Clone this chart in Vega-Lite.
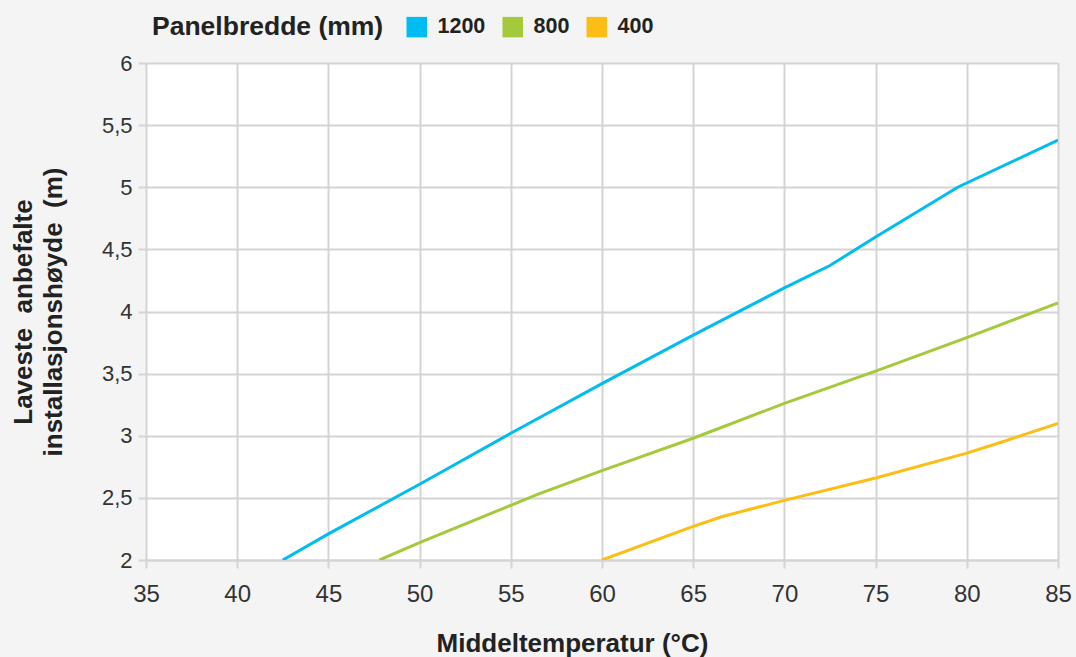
{
  "$schema": "https://vega.github.io/schema/vega-lite/v6.json",
  "autosize": "none",
  "width": 912,
  "height": 497,
  "padding": {"left": 146, "top": 63, "right": 18, "bottom": 97},
  "background": "#f4f4f5",
  "config": {
    "view": {"fill": "white", "stroke": null},
    "font": "Liberation Sans"
  },
  "data": {
    "values": [
      {"panel": "1200", "t": 42.5, "h": 2.0},
      {"panel": "1200", "t": 45, "h": 2.21},
      {"panel": "1200", "t": 50, "h": 2.61},
      {"panel": "1200", "t": 55, "h": 3.02},
      {"panel": "1200", "t": 60, "h": 3.42},
      {"panel": "1200", "t": 65, "h": 3.81},
      {"panel": "1200", "t": 70, "h": 4.19},
      {"panel": "1200", "t": 72.5, "h": 4.37},
      {"panel": "1200", "t": 75, "h": 4.6},
      {"panel": "1200", "t": 79.5, "h": 5.0},
      {"panel": "1200", "t": 85, "h": 5.38},
      {"panel": "800", "t": 47.8, "h": 2.0},
      {"panel": "800", "t": 50, "h": 2.14},
      {"panel": "800", "t": 55, "h": 2.44},
      {"panel": "800", "t": 56.5, "h": 2.53},
      {"panel": "800", "t": 60, "h": 2.72},
      {"panel": "800", "t": 65, "h": 2.98},
      {"panel": "800", "t": 70, "h": 3.26},
      {"panel": "800", "t": 75, "h": 3.52},
      {"panel": "800", "t": 80, "h": 3.79},
      {"panel": "800", "t": 85, "h": 4.07},
      {"panel": "400", "t": 60, "h": 2.0},
      {"panel": "400", "t": 65, "h": 2.27},
      {"panel": "400", "t": 66.6, "h": 2.35},
      {"panel": "400", "t": 70, "h": 2.48},
      {"panel": "400", "t": 75, "h": 2.66},
      {"panel": "400", "t": 80, "h": 2.86},
      {"panel": "400", "t": 81.5, "h": 2.93},
      {"panel": "400", "t": 85, "h": 3.1}
    ]
  },
  "mark": {"type": "line", "strokeWidth": 3, "clip": true},
  "encoding": {
    "x": {
      "field": "t",
      "type": "quantitative",
      "scale": {"domain": [35, 85], "nice": false, "zero": false},
      "axis": {
        "values": [35, 40, 45, 50, 55, 60, 65, 70, 75, 80, 85],
        "title": "Middeltemperatur (°C)",
        "titleFontSize": 26,
        "titleFontWeight": "bold",
        "titleColor": "#222",
        "titleX": 426,
        "titleY": 70,
        "titleBaseline": "top",
        "labelFontSize": 24,
        "labelColor": "#333",
        "labelPadding": 14,
        "labelFlush": false,
        "labelOverlap": false,
        "grid": true,
        "gridColor": "#d4d4d6",
        "gridWidth": 2,
        "domainColor": "#d4d4d6",
        "domainWidth": 2,
        "tickColor": "#d4d4d6",
        "tickWidth": 2,
        "tickSize": 8
      }
    },
    "y": {
      "field": "h",
      "type": "quantitative",
      "scale": {"domain": [2, 6], "nice": false, "zero": false},
      "axis": {
        "values": [2, 2.5, 3, 3.5, 4, 4.5, 5, 5.5, 6],
        "labelExpr": "replace(format(datum.value, '~g'), '.', ',')",
        "title": ["Laveste\u00a0 anbefalte", "installasjonshøyde\u00a0 (m)"],
        "titleFontSize": 26,
        "titleFontWeight": "bold",
        "titleColor": "#222",
        "titlePadding": 35,
        "titleLineHeight": 30,
        "labelFontSize": 22,
        "labelColor": "#333",
        "labelPadding": 6,
        "labelFlush": false,
        "grid": true,
        "gridColor": "#d4d4d6",
        "gridWidth": 2,
        "domain": false,
        "tickColor": "#d4d4d6",
        "tickWidth": 2,
        "tickSize": 8
      }
    },
    "color": {
      "field": "panel",
      "type": "nominal",
      "scale": {"domain": ["1200", "800", "400"], "range": ["#00bcf0", "#a4c93a", "#fdbd14"]},
      "legend": {
        "title": "Panelbredde (mm)",
        "orient": "none",
        "legendX": 6,
        "legendY": -47,
        "direction": "horizontal",
        "titleOrient": "left",
        "titleFontSize": 26.5,
        "titleFontWeight": "bold",
        "titleColor": "#222",
        "titleLimit": 500,
        "titlePadding": 22,
        "labelFontSize": 21.5,
        "labelFontWeight": "bold",
        "labelColor": "#222",
        "symbolType": "square",
        "symbolSize": 420,
        "symbolStrokeWidth": 0,
        "columnPadding": 16,
        "labelOffset": 10,
        "encode": {
          "symbols": {"update": {"fill": {"scale": "color", "field": "value"}, "fillOpacity": {"value": 1}}}
        }
      }
    }
  }
}
